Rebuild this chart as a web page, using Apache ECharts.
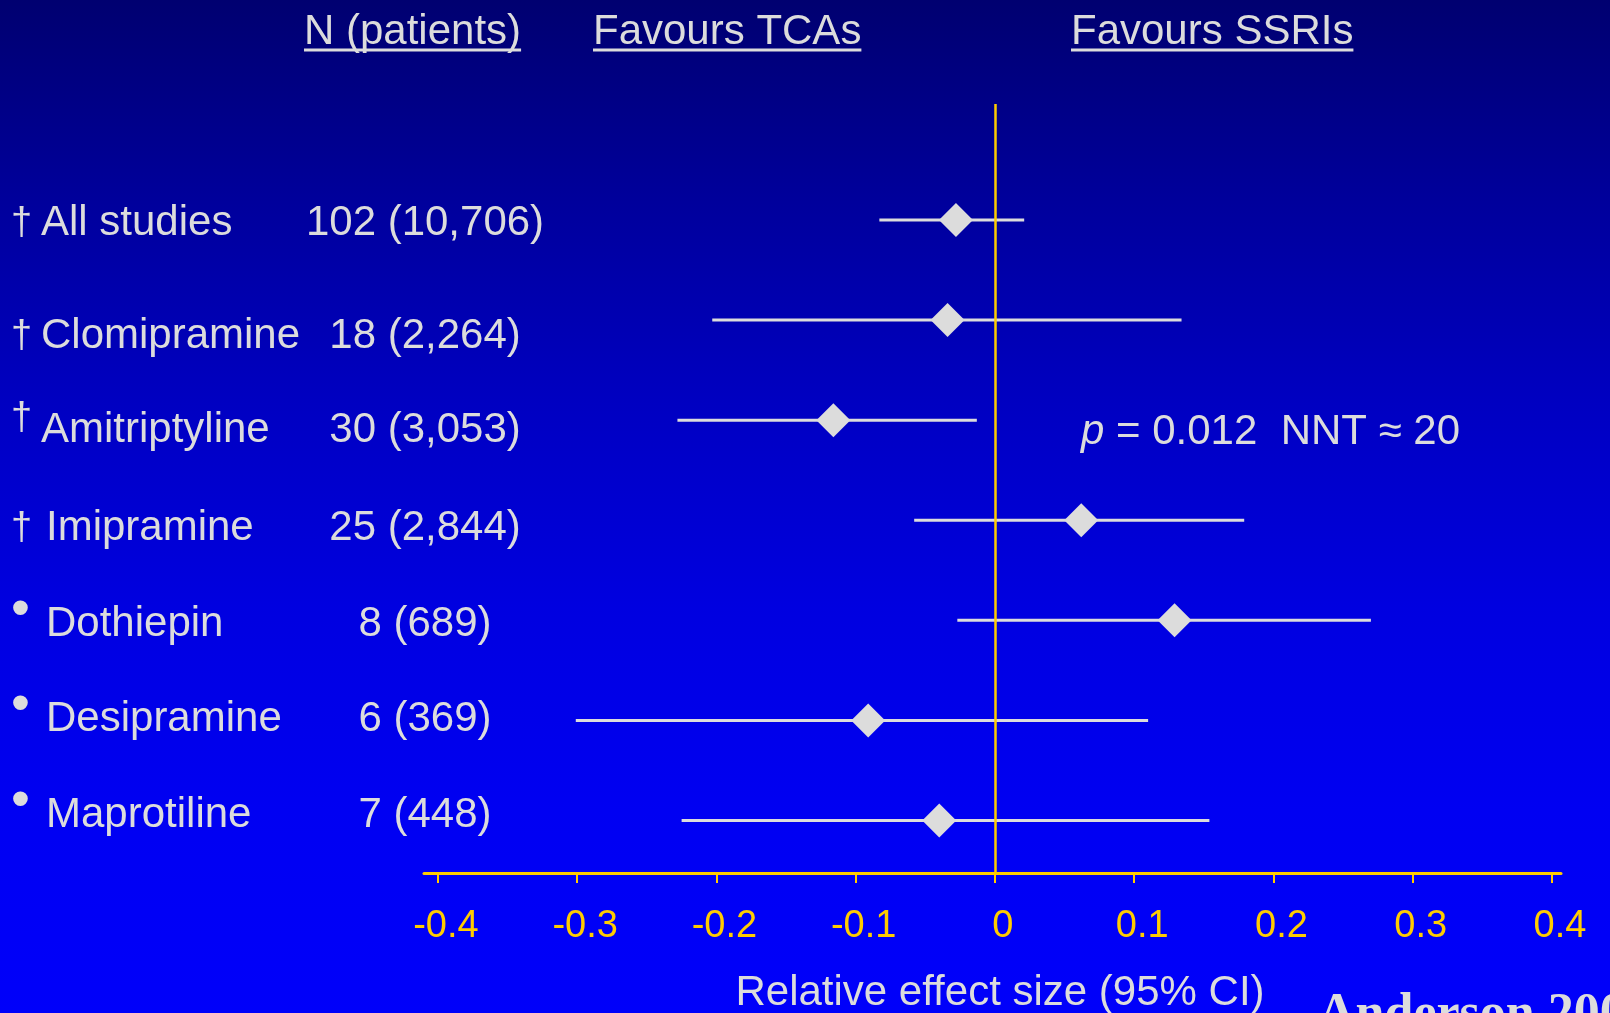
<!DOCTYPE html>
<html>
<head>
<meta charset="utf-8">
<title>SSRIs vs TCAs – relative effect size</title>
<script src="https://cdn.jsdelivr.net/npm/echarts@6/dist/echarts.min.js"></script>
<style>
  html, body { margin: 0; padding: 0; background: #0000c0; }
  #chart { width: 1610px; height: 1013px; }
</style>
</head>
<body>
<div id="chart"></div>
<script>
// ---- data -------------------------------------------------------------
const drugs    = ['All studies', 'Clomipramine', 'Amitriptyline', 'Imipramine', 'Dothiepin', 'Desipramine', 'Maprotiline'];
const markers  = ['†', '†', '†', '†', '•', '•', '•'];
const trials   = [102, 18, 30, 25, 8, 6, 7];
const patients = [10706, 2264, 3053, 2844, 689, 369, 448];
const effect   = [-0.028, -0.034, -0.116, 0.062, 0.129, -0.091, -0.040];
const ciLow    = [-0.083, -0.203, -0.228, -0.058, -0.027, -0.301, -0.225];
const ciHigh   = [0.021, 0.134, -0.013, 0.179, 0.270, 0.110, 0.154];
const xTicks   = [-0.4, -0.3, -0.2, -0.1, 0, 0.1, 0.2, 0.3, 0.4];

// ---- layout & styling ---------------------------------------------------
const SANS = '"Liberation Sans", Arial, sans-serif';
const TEXT = '#dcdcdc';
const GOLD = '#ffcc00';
const GRID = { left: 424, right: 49, top: 104, bottom: 140 };
const Y_MIN = -1.158, Y_MAX = 6.524;
const rowPx = (1013 - GRID.top - GRID.bottom) / (Y_MAX - Y_MIN);
// the text rows on the left are set slightly apart from the interval rows (px)
const labelNudge = [0, 12, 6, 4, 0, -5, -9];
const labelRows = drugs.map((_, i) => i + labelNudge[i] / rowPx);
// marker token style per row (the Amitriptyline dagger sits raised,
// Imipramine is indented a little further)
const markerStyle = ['dag', 'dag', 'sup', 'dagw', 'dot', 'dot', 'dot'];

const chart = echarts.init(document.getElementById('chart'), null, { renderer: 'canvas' });

// width of a header string, used for its underline
const measureCtx = document.createElement('canvas').getContext('2d');
function textWidth(str, font) {
  measureCtx.font = font;
  return measureCtx.measureText(str).width;
}

const headerFont = '42px ' + SANS;
const headers = [
  { text: 'N (patients)', x: 304 },
  { text: 'Favours TCAs', x: 593 },
  { text: 'Favours SSRIs', x: 1071 }
];
const headerGraphics = [];
headers.forEach(h => {
  const w = textWidth(h.text, headerFont);
  headerGraphics.push({
    type: 'text', x: h.x, y: 32,
    style: { text: h.text, font: headerFont, fill: TEXT, align: 'left', verticalAlign: 'middle' }
  });
  headerGraphics.push({
    type: 'line', shape: { x1: h.x, y1: 50, x2: h.x + w, y2: 50 },
    style: { stroke: TEXT, lineWidth: 3 }
  });
});

const option = {
  animation: false,
  backgroundColor: {
    type: 'linear', x: 0, y: 0, x2: 0, y2: 1,
    colorStops: [
      { offset: 0.0, color: '#000070' },
      { offset: 0.2, color: '#00009c' },
      { offset: 0.4, color: '#0000c2' },
      { offset: 0.6, color: '#0000e0' },
      { offset: 0.8, color: '#0000f2' },
      { offset: 1.0, color: '#0000fa' }
    ]
  },
  grid: Object.assign({ containLabel: false, outerBoundsMode: 'none' }, GRID),
  xAxis: {
    type: 'value',
    min: -0.41,
    max: 0.4065,
    splitLine: { show: false },
    axisLine: { show: true, onZero: false, lineStyle: { color: GOLD, width: 3 } },
    axisTick: { show: true, customValues: xTicks, length: 10, lineStyle: { color: GOLD, width: 2 } },
    axisLabel: {
      customValues: xTicks,
      margin: 35,
      color: GOLD,
      fontSize: 38,
      lineHeight: 38,
      fontFamily: SANS,
      padding: [0, 0, 0, 16],
      formatter: v => String(v)
    },
    name: 'Relative effect size (95% CI)',
    nameLocation: 'middle',
    nameGap: 99,
    nameTextStyle: { color: TEXT, fontSize: 42, lineHeight: 42, fontFamily: SANS, padding: [0, 0, 0, 15] }
  },
  yAxis: {
    type: 'value',
    inverse: true,
    min: Y_MIN,
    max: Y_MAX,
    splitLine: { show: false },
    axisLine: { show: false },
    axisTick: { show: false },
    axisLabel: {
      customValues: labelRows,
      margin: 413,
      align: 'left',
      padding: [8, 0, 0, 0],
      formatter: v => {
        const i = Math.round(v);
        const ms = markerStyle[i];
        const nameStyle = (ms === 'dot' || ms === 'dagw') ? 'nameB' : 'nameD';
        const n = trials[i] + ' (' + patients[i].toLocaleString('en-US') + ')';
        return '{' + ms + '|' + markers[i] + '}{' + nameStyle + '|' + drugs[i] + '}{n|' + n + '}';
      },
      rich: {
        dag:  { fontSize: 38, fontFamily: SANS, color: TEXT, width: 30, align: 'left' },
        dagw: { fontSize: 38, fontFamily: SANS, color: TEXT, width: 35, align: 'left' },
        sup:  { fontSize: 38, fontFamily: SANS, color: TEXT, width: 30, align: 'left', height: 18, lineHeight: 18, verticalAlign: 'top' },
        dot:  { fontSize: 54, fontFamily: SANS, color: TEXT, width: 35, align: 'left', height: 16, lineHeight: 16, verticalAlign: 'top' },
        nameD: { fontSize: 42, fontFamily: SANS, color: TEXT, width: 264, align: 'left', lineHeight: 42 },
        nameB: { fontSize: 42, fontFamily: SANS, color: TEXT, width: 259, align: 'left', lineHeight: 42 },
        n:    { fontSize: 42, fontFamily: SANS, color: TEXT, width: 240, align: 'center', lineHeight: 42 }
      }
    }
  },
  series: [
    {
      // 95% confidence intervals
      type: 'custom',
      z: 2,
      silent: true,
      data: ciLow.map((lo, i) => [lo, ciHigh[i], i]),
      encode: { x: [0, 1], y: 2 },
      renderItem: (params, api) => {
        const a = api.coord([api.value(0), api.value(2)]);
        const b = api.coord([api.value(1), api.value(2)]);
        return {
          type: 'line',
          shape: { x1: a[0], y1: a[1], x2: b[0], y2: b[1] },
          style: { stroke: TEXT, lineWidth: 3 }
        };
      }
    },
    {
      // no-difference reference line
      type: 'scatter',
      z: 3,
      silent: true,
      data: [],
      markLine: {
        silent: true,
        symbol: ['none', 'none'],
        label: { show: false },
        lineStyle: { color: GOLD, width: 2.5, type: 'solid' },
        data: [{ xAxis: 0 }]
      }
    },
    {
      // point estimates
      type: 'scatter',
      z: 4,
      silent: true,
      symbol: 'diamond',
      symbolSize: [34, 34],
      itemStyle: { color: TEXT, opacity: 1 },
      data: effect.map((v, i) => [v, i])
    }
  ],
  graphic: headerGraphics.concat([
    {
      type: 'text', x: 1081, y: 432,
      style: {
        text: '{i|p}{t| = 0.012  NNT ≈ 20}',
        align: 'left', verticalAlign: 'middle',
        rich: {
          i: { fontSize: 42, fontFamily: SANS, fontStyle: 'italic', fill: TEXT, color: TEXT },
          t: { fontSize: 42, fontFamily: SANS, fill: TEXT, color: TEXT }
        }
      }
    },
    {
      type: 'text', x: 1318, y: 1016,
      style: {
        text: 'Anderson 2000',
        font: 'bold 52px "Liberation Serif", "Times New Roman", serif',
        fill: TEXT, align: 'left', verticalAlign: 'middle'
      }
    }
  ])
};

chart.setOption(option);
</script>
</body>
</html>
